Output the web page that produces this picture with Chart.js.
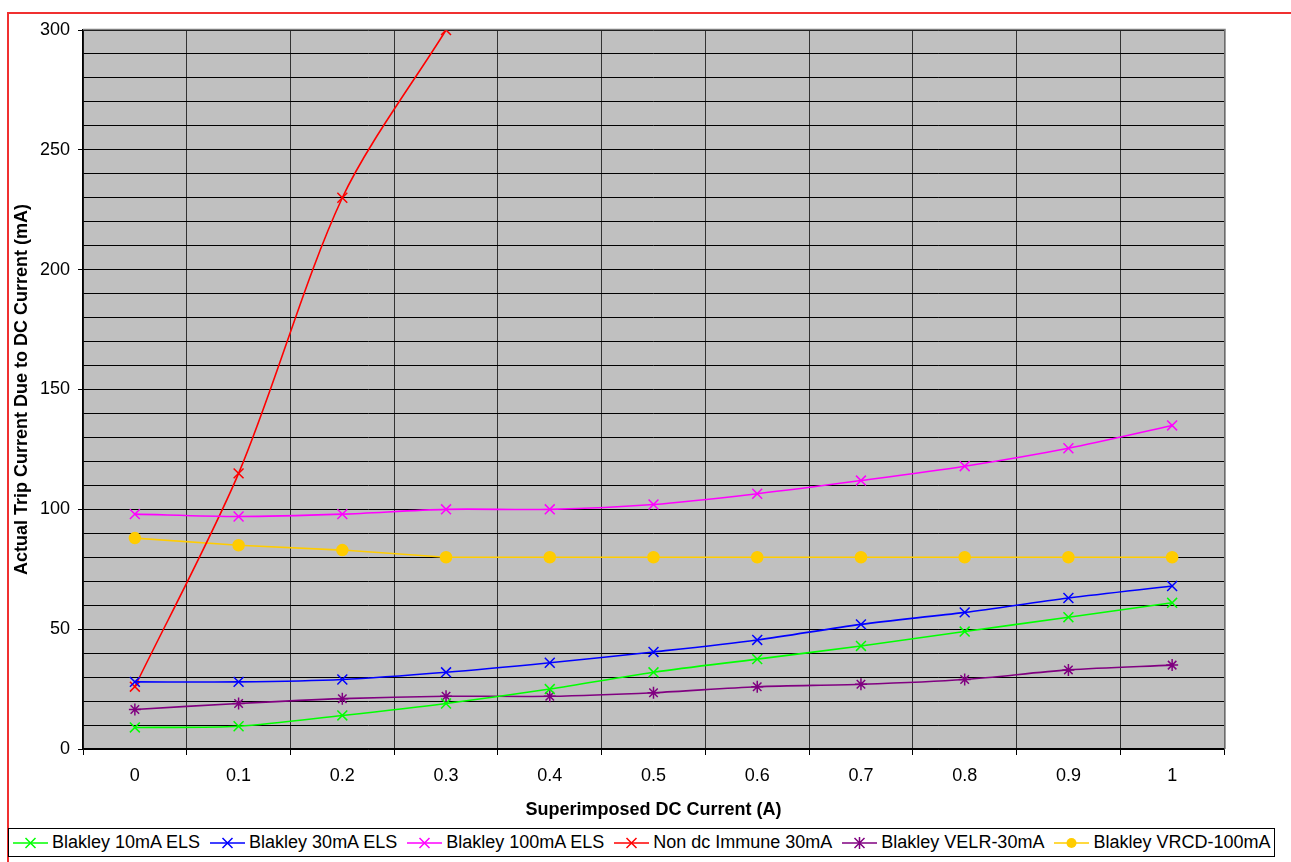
<!DOCTYPE html>
<html>
<head>
<meta charset="utf-8">
<script src="https://cdn.jsdelivr.net/npm/chart.js@4"></script>
<style>
  body { margin: 0; background: #fff; font-family: "Liberation Sans", Arial, sans-serif; }
  #wrap { position: relative; width: 1291px; height: 862px; overflow: hidden; }
  #frame { position: absolute; left: 7px; top: 12px; width: 1400px; height: 1000px; border: 2px solid #f03030; box-sizing: border-box; }
  #chart { position: absolute; left: 0; top: 0; }
  #legend { position: absolute; left: 8px; top: 828px; width: 1267px; height: 29px; border: 1px solid #000;
    box-sizing: border-box; background: #fff; display: flex; align-items: center; padding-left: 4px; font-size: 18px; }
  .item { display: flex; align-items: center; margin-right: 10px; white-space: nowrap; }
  .item canvas { margin-right: 4px; }
</style>
</head>
<body>
<div id="wrap">
  <div id="frame"></div>
  <canvas id="chart" width="1291" height="862"></canvas>
  <div id="legend"></div>
</div>
<script>
  // x categories (superimposed dc current, A)
  var currents = ["0", "0.1", "0.2", "0.3", "0.4", "0.5", "0.6", "0.7", "0.8", "0.9", "1"];

  // trip current readings (mA)
  var els10 = [9, 9.5, 14, 19, 25, 32, 37.5, 43, 49, 55, 61];
  var els30 = [28, 28, 29, 32, 36, 40.5, 45.5, 52, 57, 63, 68];
  var els100 = [98, 97, 98, 100, 100, 102, 106.5, 112, 118, 125.5, 135];
  var nonImmune = [26, 115, 230, 300, null, null, null, null, null, null, null];
  var velr30 = [16.5, 19, 21, 22, 22, 23.5, 26, 27, 29, 33, 35];
  var vrcd100 = [88, 85, 83, 80, 80, 80, 80, 80, 80, 80, 80];

  var seriesNames = ["Blakley 10mA ELS", "Blakley 30mA ELS", "Blakley 100mA ELS",
    "Non dc Immune 30mA", "Blakley VELR-30mA", "Blakley VRCD-100mA"];

  function makeSet(label, data, color, marker, tension) {
    var radius = 7;
    if (marker == "circle") radius = 5.5;
    if (marker == "star") radius = 6;
    return {
      label: label,
      data: data,
      borderColor: color,
      backgroundColor: color,
      pointBorderColor: color,
      pointBackgroundColor: color,
      borderWidth: 1.6,
      pointStyle: marker,
      pointRadius: radius,
      pointBorderWidth: 1.5,
      pointHoverRadius: radius,
      tension: tension,
      spanGaps: false
    };
  }

  var datasets = [
    makeSet(seriesNames[0], els10, "#00ff00", "crossRot", 0.3),
    makeSet(seriesNames[1], els30, "#0000ff", "crossRot", 0.3),
    makeSet(seriesNames[2], els100, "#ff00ff", "crossRot", 0.3),
    makeSet(seriesNames[3], nonImmune, "#ff0000", "crossRot", 0.3),
    makeSet(seriesNames[4], velr30, "#800080", "star", 0.3),
    makeSet(seriesNames[5], vrcd100, "#ffcc00", "circle", 0)
  ];

  // grey plot area like the excel original
  var plotBackground = {
    id: "plotBackground",
    beforeDraw: function(chart) {
      var a = chart.chartArea, ctx = chart.ctx;
      ctx.save();
      ctx.fillStyle = "#c0c0c0";
      ctx.fillRect(a.left, a.top, a.right - a.left, a.bottom - a.top);
      ctx.restore();
    },
    afterDatasetsDraw: function(chart) {
      var a = chart.chartArea, ctx = chart.ctx;
      ctx.save();
      ctx.strokeStyle = "#808080";
      ctx.lineWidth = 1.5;
      ctx.beginPath();
      ctx.moveTo(a.left, a.top - 0.5);
      ctx.lineTo(a.right + 1, a.top - 0.5);
      ctx.lineTo(a.right + 1, a.bottom);
      ctx.stroke();
      ctx.restore();
    }
  };

  Chart.defaults.font.family = "'Liberation Sans', Arial, sans-serif";
  Chart.defaults.color = "#000";

  new Chart(document.getElementById("chart"), {
    type: "line",
    data: { labels: currents, datasets: datasets },
    plugins: [plotBackground],
    options: {
      responsive: false,
      animation: false,
      layout: { padding: { left: 0, top: 30, right: 67, bottom: 0 } },
      plugins: { legend: { display: false }, tooltip: { enabled: false } },
      scales: {
        x: {
          offset: true,
          grid: { offset: true, color: "#333", lineWidth: 1, tickLength: 6, tickColor: "#000" },
          border: { color: "#000", width: 1.5 },
          ticks: { font: { size: 18 }, padding: 10, maxRotation: 0 },
          title: { display: true, text: "Superimposed DC Current (A)", font: { size: 18, weight: "bold" },
            padding: { top: 0, bottom: 41 } },
          afterFit: function(scale) { scale.height = 113; }
        },
        y: {
          min: 0,
          max: 300,
          ticks: {
            stepSize: 10,
            autoSkip: false,
            font: { size: 18 },
            padding: 8,
            callback: function(v) { return v % 50 === 0 ? v : ""; }
          },
          grid: {
            color: "#000",
            lineWidth: 1,
            tickLength: 5,
            tickColor: function(c) { return c.tick && c.tick.value % 50 === 0 ? "#000" : "rgba(0,0,0,0)"; }
          },
          border: { color: "#000", width: 1.5 },
          title: { display: true, text: "Actual Trip Current Due to DC Current (mA)", font: { size: 18, weight: "bold" },
            padding: { top: 11, bottom: 0 } },
          afterFit: function(scale) { scale.width = 83; }
        }
      }
    }
  });

  // legend with line + marker swatches, drawn from the dataset styles
  function buildLegend() {
    var box = document.getElementById("legend");
    datasets.forEach(function(ds) {
      var item = document.createElement("div");
      item.className = "item";
      var c = document.createElement("canvas");
      c.width = 35; c.height = 16;
      var g = c.getContext("2d");
      g.strokeStyle = ds.borderColor;
      g.fillStyle = ds.borderColor;
      g.lineWidth = 1.5;
      g.beginPath(); g.moveTo(0, 8); g.lineTo(35, 8); g.stroke();
      var r = 5;
      g.beginPath();
      if (ds.pointStyle == "circle") {
        g.arc(17.5, 8, r, 0, Math.PI * 2); g.fill();
      } else {
        var d = r;
        g.moveTo(17.5 - d, 8 - d); g.lineTo(17.5 + d, 8 + d);
        g.moveTo(17.5 + d, 8 - d); g.lineTo(17.5 - d, 8 + d);
        if (ds.pointStyle == "star") { g.moveTo(17.5, 8 - r - 1); g.lineTo(17.5, 8 + r + 1); }
        g.stroke();
      }
      var t = document.createElement("span");
      t.textContent = ds.label;
      item.appendChild(c);
      item.appendChild(t);
      box.appendChild(item);
    });
  }
  buildLegend();
</script>
</body>
</html>
